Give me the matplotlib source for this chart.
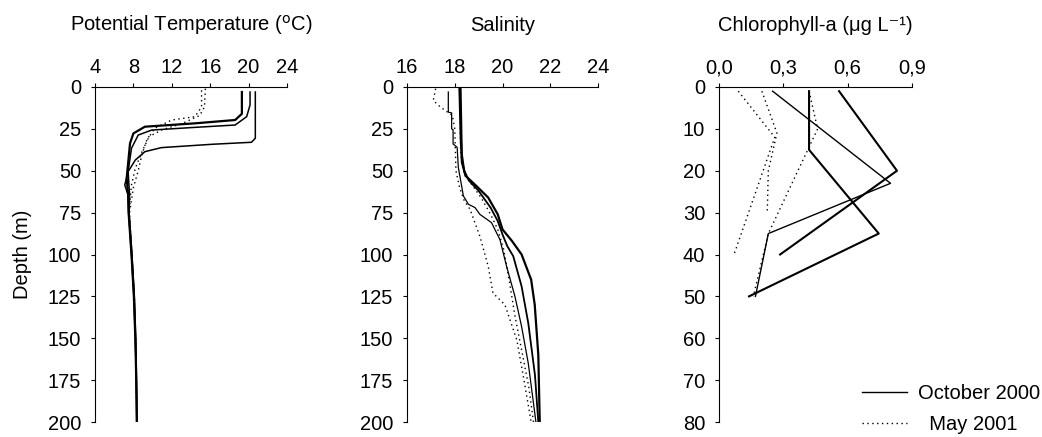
import numpy as np
import matplotlib
matplotlib.use("Agg")
import matplotlib.pyplot as plt
from matplotlib.lines import Line2D

plt.rcParams['font.family'] = ['Liberation Sans', 'DejaVu Sans']
plt.rcParams['font.size'] = 14.5

# ---- Potential temperature profiles (depth m, temp C) ----
temp_oct1_depth = [3, 16, 19.7, 21.7, 23.7, 27.7, 33.6, 54.5, 64.5, 75, 100, 125, 150, 175, 200]
temp_oct1 = [19.3, 19.3, 18.6, 14.4, 9.2, 8.0, 7.65, 7.3, 7.45, 7.5, 7.8, 8.05, 8.2, 8.3, 8.35]
temp_oct2_depth = [3, 10.7, 17.7, 22.7, 24.1, 25.7, 28.7, 36.6, 50.5, 64.5, 75, 100, 125, 150, 175, 200]
temp_oct2 = [20.15, 20.15, 19.8, 18.6, 14.4, 9.9, 8.5, 7.8, 7.45, 7.6, 7.55, 7.85, 8.1, 8.25, 8.32, 8.38]
temp_oct3_depth = [3, 30.6, 33.0, 34.2, 36.2, 38.6, 43.6, 50.5, 58.5, 64.5, 75, 100, 125, 150, 175, 200]
temp_oct3 = [20.7, 20.7, 20.3, 16.2, 10.9, 9.2, 8.2, 7.45, 7.1, 7.45, 7.5, 7.8, 8.05, 8.2, 8.3, 8.35]
temp_may1_depth = [2, 12, 17.7, 19.7, 24.7, 30.6, 38.6, 48.5, 58.5, 64.5, 75, 100, 125, 150, 175, 200]
temp_may1 = [15.1, 15.1, 14.4, 12.0, 10.2, 9.55, 8.9, 8.2, 7.8, 7.7, 7.55, 7.85, 8.1, 8.22, 8.3, 8.36]
temp_may2_depth = [1, 12, 17, 22, 25.5, 30, 40, 50, 60, 75, 100, 125, 150, 175, 200]
temp_may2 = [15.5, 15.4, 14.9, 13.0, 11.0, 9.5, 8.9, 8.5, 8.0, 7.6, 7.85, 8.1, 8.22, 8.3, 8.36]

# ---- Salinity profiles ----
sal_oct1_depth = [1, 30, 45, 53, 59, 66, 76, 85, 92, 100, 115, 130, 160, 200]
sal_oct1 = [18.2, 18.25, 18.3, 18.45, 18.9, 19.4, 19.8, 20.0, 20.4, 20.8, 21.2, 21.35, 21.5, 21.56]
sal_oct2_depth = [1, 40, 50, 56, 62, 72, 80, 88, 95, 101, 119, 141, 172, 200]
sal_oct2 = [18.25, 18.3, 18.4, 18.6, 19.0, 19.5, 19.8, 20.0, 20.2, 20.45, 20.8, 21.08, 21.36, 21.5]
sal_oct3_depth = [3, 15, 15.5, 25, 25.5, 34, 36, 48, 65, 70, 72, 76, 81, 91, 107, 125, 143, 165, 200]
sal_oct3 = [17.73, 17.73, 17.87, 17.87, 17.93, 17.93, 18.1, 18.15, 18.36, 18.57, 18.85, 19.05,
            19.54, 19.89, 20.17, 20.52, 20.8, 21.08, 21.4]
sal_may1_depth = [1, 8, 12, 17, 25, 50, 60, 68, 73, 89, 107, 123, 130, 151, 175, 200]
sal_may1 = [17.2, 17.1, 17.4, 17.9, 18.0, 18.05, 18.2, 18.4, 18.64, 19.05, 19.4, 19.6, 20.1, 20.6, 20.9, 21.2]
sal_may2_depth = [1, 40, 52, 60, 66, 76, 85, 97, 117, 135, 157, 179, 200]
sal_may2 = [18.2, 18.25, 18.4, 18.8, 19.1, 19.5, 19.8, 20.05, 20.3, 20.5, 20.8, 21.1, 21.3]

# ---- Chlorophyll-a profiles (ug/L) ----
chl_oct1_depth = [1, 15, 35, 50]
chl_oct1 = [0.42, 0.42, 0.745, 0.14]
chl_oct2_depth = [1, 20, 40]
chl_oct2 = [0.56, 0.83, 0.285]
chl_oct3_depth = [1, 23, 35, 50]
chl_oct3 = [0.25, 0.80, 0.23, 0.17]
chl_may1_depth = [1, 12, 40]
chl_may1 = [0.09, 0.26, 0.07]
chl_may2_depth = [1, 11, 20, 30]
chl_may2 = [0.2, 0.27, 0.23, 0.225]
chl_may3_depth = [1, 10, 35, 50]
chl_may3 = [0.42, 0.46, 0.23, 0.16]

DOT = (0, (1, 2.5))

fig = plt.figure(figsize=(10.42, 4.37), dpi=100)
H = 437.0
W = 1042.0
bottom = 1 - 422 / H
height = 335 / H
ax1 = fig.add_axes([95 / W, bottom, 192 / W, height])
ax2 = fig.add_axes([407 / W, bottom, 191 / W, height])
ax3 = fig.add_axes([719 / W, bottom, 193 / W, height])


def style(ax, xlim, xticks, xlabels, ylim, yticks):
    ax.set_xlim(*xlim)
    ax.set_ylim(ylim, 0)
    ax.set_xticks(xticks)
    ax.set_xticklabels(xlabels)
    ax.set_yticks(yticks)
    ax.xaxis.tick_top()
    for s in ['right', 'bottom']:
        ax.spines[s].set_visible(False)
    for s in ['top', 'left']:
        ax.spines[s].set_linewidth(0.8)
    ax.tick_params(axis='x', length=3, width=0.8, pad=4)
    ax.tick_params(axis='y', length=3, width=0.8, pad=7)


# temperature
ax1.plot(temp_oct1, temp_oct1_depth, color='black', lw=1.6)
ax1.plot(temp_oct2, temp_oct2_depth, color='black', lw=1.1)
ax1.plot(temp_oct3, temp_oct3_depth, color='black', lw=1.1)
ax1.plot(temp_may1, temp_may1_depth, color='black', lw=1.0, ls=DOT)
ax1.plot(temp_may2, temp_may2_depth, color='black', lw=1.0, ls=DOT)
style(ax1, (4, 24), [4, 8, 12, 16, 20, 24], ['4', '8', '12', '16', '20', '24'],
      200, [0, 25, 50, 75, 100, 125, 150, 175, 200])
ax1.set_ylabel('Depth (m)')
ax1.yaxis.set_label_coords(-0.33, 0.5)
ax1.text(0.5, 1.185, 'Potential Temperature ($^{\\rm o}$C)', transform=ax1.transAxes,
         ha='center', va='center')

# salinity
ax2.plot(sal_oct1, sal_oct1_depth, color='black', lw=1.6)
ax2.plot(sal_oct2, sal_oct2_depth, color='black', lw=1.3)
ax2.plot(sal_oct3, sal_oct3_depth, color='black', lw=0.9)
ax2.plot(sal_may1, sal_may1_depth, color='black', lw=1.0, ls=DOT)
ax2.plot(sal_may2, sal_may2_depth, color='black', lw=1.0, ls=DOT)
style(ax2, (16, 24), [16, 18, 20, 22, 24], ['16', '18', '20', '22', '24'],
      200, [0, 25, 50, 75, 100, 125, 150, 175, 200])
ax2.text(0.5, 1.185, 'Salinity', transform=ax2.transAxes, ha='center', va='center')

# chlorophyll
ax3.plot(chl_oct1, chl_oct1_depth, color='black', lw=1.5)
ax3.plot(chl_oct2, chl_oct2_depth, color='black', lw=1.5)
ax3.plot(chl_oct3, chl_oct3_depth, color='black', lw=1.0)
ax3.plot(chl_may1, chl_may1_depth, color='black', lw=1.0, ls=DOT)
ax3.plot(chl_may2, chl_may2_depth, color='black', lw=1.0, ls=DOT)
ax3.plot(chl_may3, chl_may3_depth, color='black', lw=1.0, ls=DOT)
style(ax3, (0, 0.9), [0, 0.3, 0.6, 0.9], ['0,0', '0,3', '0,6', '0,9'],
      80, [0, 10, 20, 30, 40, 50, 60, 70, 80])
ax3.text(0.5, 1.185, 'Chlorophyll-a (\u03bcg L\u207b\u00b9)', transform=ax3.transAxes,
         ha='center', va='center')

handles = [Line2D([], [], color='black', lw=1.0),
           Line2D([], [], color='black', lw=1.0, ls=DOT)]
fig.legend(handles, ['October 2000', '  May 2001'], loc='upper left',
           bbox_to_anchor=(862 / W, 1 - 384 / H), frameon=False, borderpad=0,
           borderaxespad=0, handlelength=2.25, handletextpad=0.55, labelspacing=0.6)

fig.savefig('out.png', dpi=100)
